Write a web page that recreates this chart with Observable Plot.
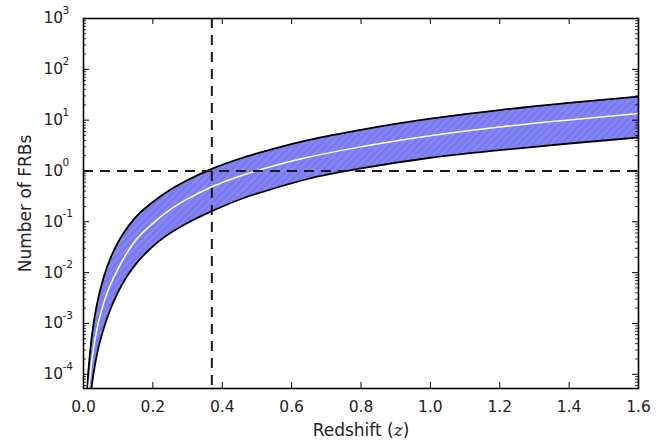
<!DOCTYPE html>
<html><head><meta charset="utf-8">
<script src="https://cdn.jsdelivr.net/npm/d3@7"></script>
<script src="https://cdn.jsdelivr.net/npm/@observablehq/plot@0.6"></script>
<style>body{margin:0;background:#fff} #chart svg{font-family:"DejaVu Sans",sans-serif;background:#fff}</style>
</head><body><div id="chart"></div>
<script>
// Redshift grid and number of FRBs (upper bound, median, lower bound)
const redshift = [0.005, 0.01, 0.02, 0.03, 0.04, 0.05, 0.06, 0.08, 0.1, 0.12, 0.15, 0.2, 0.25, 0.3, 0.37, 0.45, 0.55, 0.65, 0.8, 1.0, 1.2, 1.4, 1.6];
const upperN  = [5.0e-6, 4.0e-5, 3.2e-4, 1.1e-3, 2.6e-3, 5.1e-3, 8.9e-3, 0.021, 0.040, 0.0665, 0.122, 0.245, 0.427, 0.66, 1.10, 1.74, 2.75, 4.07, 6.46, 10.7, 15.8, 21.9, 29.2];
const medianN = [2.0e-6, 1.5e-5, 1.1e-4, 3.6e-4, 8.5e-4, 1.6e-3, 2.75e-3, 6.3e-3, 0.012, 0.0214, 0.043, 0.093, 0.174, 0.282, 0.49, 0.79, 1.27, 1.88, 2.99, 4.95, 7.33, 10.1, 13.5];
const lowerN  = [6.5e-7, 4.8e-6, 3.5e-5, 1.15e-4, 2.7e-4, 5.1e-4, 8.7e-4, 2.1e-3, 4.2e-3, 7.4e-3, 0.0145, 0.033, 0.060, 0.095, 0.162, 0.275, 0.457, 0.708, 1.12, 1.82, 2.57, 3.47, 4.57];

const zMarker = 0.37;
const nThreshold = 1;

const xTicks = [0, 0.2, 0.4, 0.6, 0.8, 1.0, 1.2, 1.4, 1.6];
const xTickLabels = ["0.0", "0.2", "0.4", "0.6", "0.8", "1.0", "1.2", "1.4", "1.6"];
const yExponents = [-4, -3, -2, -1, 0, 1, 2, 3];
const yDomain = [Math.pow(10, -4.28), 1000];

const xLabel = "Redshift (z)";
const yLabel = "Number of FRBs";

const rows = redshift.map((z, i) => ({z, hi: upperN[i], mid: medianN[i], lo: lowerN[i]}));
const yMajor = yExponents.map(e => Math.pow(10, e));
const yMinor = [];
for (let e = -5; e <= 2; e++) for (let k = 2; k <= 9; k++) {
  const v = k * Math.pow(10, e);
  if (v > yDomain[0] && v < yDomain[1]) yMinor.push(v);
}

const curve = "monotone-x";
const W = 668, H = 441, mL = 83, mR = 30, mT = 18, mB = 53;
const pw = W - mL - mR, ph = H - mT - mB;

const chart = Plot.plot({
  width: W, height: H,
  marginLeft: mL, marginRight: mR, marginTop: mT, marginBottom: mB,
  style: {fontFamily: "DejaVu Sans, sans-serif", background: "#fff"},
  x: {domain: [0, 1.6], axis: null},
  y: {type: "log", domain: yDomain, axis: null},
  marks: [
    Plot.areaY(rows, {x: "z", y1: "lo", y2: "hi", fill: "url(#hatch)", clip: true, curve}),
    Plot.line(rows, {x: "z", y: "hi", stroke: "#000", strokeWidth: 1.8, clip: true, curve}),
    Plot.line(rows, {x: "z", y: "lo", stroke: "#000", strokeWidth: 1.8, clip: true, curve}),
    Plot.line(rows, {x: "z", y: "mid", stroke: "#fff", strokeWidth: 1.5, clip: true, curve}),
    Plot.ruleY([nThreshold], {stroke: "#1a1a1a", strokeWidth: 2, strokeDasharray: "10,7"}),
    Plot.ruleX([zMarker], {stroke: "#1a1a1a", strokeWidth: 2, strokeDasharray: "10,7"}),
    // inward ticks
    Plot.tickY(yMajor, {y: d => d, insetRight: pw - 6, stroke: "#000", strokeWidth: 1}),
    Plot.tickY(yMajor, {y: d => d, insetLeft: pw - 6, stroke: "#000", strokeWidth: 1}),
    Plot.tickY(yMinor, {y: d => d, insetRight: pw - 3, stroke: "#000", strokeWidth: 0.8}),
    Plot.tickY(yMinor, {y: d => d, insetLeft: pw - 3, stroke: "#000", strokeWidth: 0.8}),
    Plot.tickX(xTicks, {x: d => d, insetTop: ph - 6, stroke: "#000", strokeWidth: 1}),
    Plot.tickX(xTicks, {x: d => d, insetBottom: ph - 6, stroke: "#000", strokeWidth: 1}),
    Plot.frame({stroke: "#000", strokeWidth: 1.6}),
    // tick labels
    Plot.text(xTicks, {x: d => d, text: (d, i) => xTickLabels[i], frameAnchor: "bottom", lineAnchor: "middle", textAnchor: "middle", dy: 19, fontSize: 15.5, fill: "#222"}),
    Plot.text(yMajor, {y: d => d, text: () => "10", frameAnchor: "left", textAnchor: "start", lineAnchor: "middle", dx: -40, fontSize: 15.5, fill: "#222"}),
    Plot.text(yMajor, {y: d => d, text: (d, i) => String(yExponents[i]), frameAnchor: "left", textAnchor: "start", lineAnchor: "middle", dx: -21, dy: -8, fontSize: 10.5, fill: "#222"}),
    // axis labels
    Plot.text([yLabel], {text: d => d, frameAnchor: "left", textAnchor: "middle", lineAnchor: "middle", dx: -58, rotate: -90, fontSize: 17, fill: "#222"}),
    Plot.text([xLabel], {text: d => d, frameAnchor: "bottom", textAnchor: "middle", lineAnchor: "middle", dy: 42, fontSize: 17, fill: "#222"})
  ]
});

// hatch pattern for the band
const ns = "http://www.w3.org/2000/svg";
const defs = document.createElementNS(ns, "defs");
defs.innerHTML = '<pattern id="hatch" patternUnits="userSpaceOnUse" width="5" height="5" patternTransform="rotate(45)">' +
  '<rect width="5" height="5" fill="#7a7af2"/>' +
  '<line x1="1" y1="0" x2="1" y2="5" stroke="#8e8ef7" stroke-width="1.4"/></pattern>';
chart.insertBefore(defs, chart.firstChild);

// italic math z in the x label
chart.querySelectorAll("text").forEach(t => {
  if (t.textContent === xLabel) {
    t.textContent = "";
    const a = document.createElementNS(ns, "tspan"); a.textContent = "Redshift (";
    const b = document.createElementNS(ns, "tspan"); b.textContent = "z";
    b.setAttribute("font-style", "italic"); b.setAttribute("font-family", "DejaVu Serif, serif");
    const c = document.createElementNS(ns, "tspan"); c.textContent = ")";
    t.append(a, b, c);
  }
});

document.getElementById("chart").appendChild(chart);
</script>
</body></html>
